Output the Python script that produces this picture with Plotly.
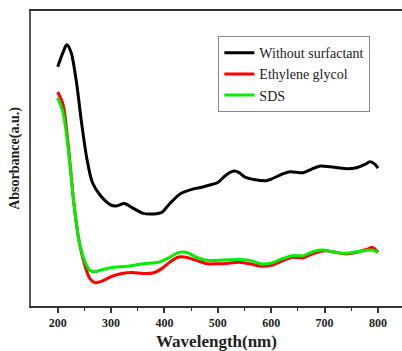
import plotly.graph_objects as go

# Wavelength (nm) and absorbance (a.u.)
wl_black = [200, 210, 217, 225, 235, 245, 255, 265, 280, 300, 310, 325, 340, 360, 380, 395,
            410, 430, 450, 470, 490, 500, 515, 530, 540, 550, 570, 590, 600, 620, 635, 660,
            675, 690, 710, 740, 760, 775, 785, 795, 800]
abs_black = [1.216, 1.290, 1.328, 1.290, 1.141, 0.926, 0.744, 0.628, 0.562, 0.513, 0.509, 0.521,
             0.499, 0.471, 0.468, 0.476, 0.521, 0.571, 0.592, 0.604, 0.619, 0.628, 0.665, 0.686,
             0.678, 0.657, 0.642, 0.637, 0.645, 0.670, 0.683, 0.678, 0.695, 0.711, 0.708, 0.698,
             0.703, 0.719, 0.733, 0.719, 0.701]

wl_red = [200, 210, 220, 230, 240, 250, 260, 270, 285, 300, 320, 340, 360, 380, 395, 410, 425,
          440, 460, 480, 500, 520, 540, 560, 580, 600, 620, 640, 660, 680, 700, 720, 740, 760,
          780, 790, 800]
abs_red = [1.088, 1.025, 0.810, 0.529, 0.331, 0.215, 0.141, 0.119, 0.129, 0.149, 0.165, 0.170,
           0.165, 0.169, 0.190, 0.223, 0.248, 0.248, 0.232, 0.215, 0.215, 0.218, 0.223, 0.215,
           0.202, 0.207, 0.228, 0.248, 0.245, 0.268, 0.281, 0.273, 0.265, 0.273, 0.289, 0.298,
           0.273]

wl_green = [200, 210, 220, 230, 240, 250, 260, 270, 280, 300, 330, 360, 390, 410, 425, 440, 460,
            480, 500, 520, 540, 560, 580, 600, 620, 640, 660, 680, 700, 720, 740, 760, 780, 790,
            800]
abs_green = [1.059, 0.984, 0.794, 0.529, 0.331, 0.232, 0.182, 0.174, 0.182, 0.195, 0.202, 0.215,
             0.223, 0.248, 0.270, 0.273, 0.248, 0.232, 0.232, 0.235, 0.237, 0.232, 0.215, 0.218,
             0.240, 0.256, 0.256, 0.278, 0.284, 0.273, 0.268, 0.276, 0.284, 0.284, 0.273]

names = ["Without surfactant", "Ethylene glycol", "SDS"]
colors = ["#000000", "#ff0000", "#00ee00"]
tick_vals = [200, 300, 400, 500, 600, 700, 800]
tick_labels = ["200", "300", "400", "500", "600", "700", "800"]
minor_vals = [250, 350, 450, 550, 650, 750]

serif = "Liberation Serif"

fig = go.Figure()
for x, y, n, c in [(wl_black, abs_black, names[0], colors[0]),
                   (wl_red, abs_red, names[1], colors[1]),
                   (wl_green, abs_green, names[2], colors[2])]:
    fig.add_trace(go.Scatter(x=x, y=y, name=n, mode="lines",
                             line=dict(color=c, width=3, shape="spline", smoothing=0.8)))

fig.update_layout(
    width=402, height=351,
    margin=dict(l=31, r=0, t=11, b=38),
    plot_bgcolor="white", paper_bgcolor="white",
    font=dict(family=serif),
    showlegend=True,
    legend=dict(x=0.505, y=0.915, xanchor="left", yanchor="top",
                bordercolor="#888888", borderwidth=1, bgcolor="white",
                font=dict(family=serif, size=14, color="#222"),
                tracegroupgap=0, itemwidth=30),
    xaxis=dict(range=[150, 845], tickvals=tick_vals,
               ticktext=["<b>%s</b>" % t for t in tick_labels],
               showgrid=False, zeroline=False, showline=True, linecolor="#333",
               linewidth=1.5, mirror=True, ticks="outside", ticklen=5, tickwidth=1.5,
               tickcolor="#333",
               minor=dict(tickvals=minor_vals, ticks="outside",
                          ticklen=3, tickwidth=1, tickcolor="#333"),
               tickfont=dict(family=serif, size=12, color="#222"),
               title=dict(text="<b>Wavelength(nm)</b>", standoff=9,
                          font=dict(family=serif, size=17, color="#222"))),
    yaxis=dict(range=[0, 1.5], showticklabels=False, showgrid=False, zeroline=False,
               showline=True, linecolor="#555", linewidth=1.5, ticks="",
               title=dict(text="<b>Absorbance(a.u.)</b>", standoff=6,
                          font=dict(family=serif, size=14, color="#222"))),
)

fig.write_html("out.html")
